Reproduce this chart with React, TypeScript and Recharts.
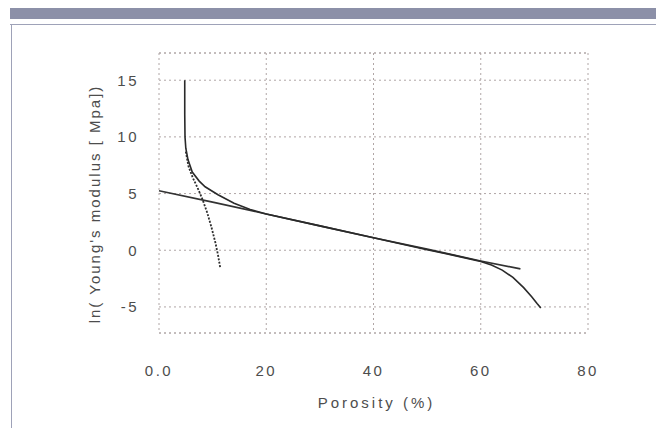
import React from 'react';
import {
  CartesianGrid,
  Label,
  Line,
  LineChart,
  ReferenceLine,
  XAxis,
  YAxis,
} from 'recharts';

// straight fit over the whole porosity range
const linePorosity = [0, 10, 20, 30, 40, 50, 60, 67.4];
const lineLnE = [5.25, 4.25, 3.2, 2.15, 1.1, 0.1, -0.95, -1.65];

// two-sided model: steep near low porosity and near the upper limit
const modelPorosity = [
  4.8, 4.8, 4.85, 5.0, 5.4, 6.2, 7.5, 8.6, 11, 14, 17, 20, 30, 40, 50, 55, 60,
  62, 64, 66, 68, 69.5, 70.5, 71.2,
];
const modelLnE = [
  15, 12, 10, 9, 8.0, 6.9, 6.1, 5.6, 4.9, 4.15, 3.6, 3.2, 2.15, 1.1, 0.05,
  -0.45, -1.0, -1.3, -1.75, -2.4, -3.3, -4.1, -4.7, -5.1,
];

// low porosity branch
const lowPorosity = [5.0, 5.5, 6.3, 7.2, 8.1, 9.0, 9.8, 10.5, 11.0, 11.4];
const lowLnE = [8.7, 7.4, 6.4, 5.5, 4.5, 3.3, 2.0, 0.7, -0.4, -1.5];

const xTicks = [0, 20, 40, 60, 80];
const yTicks = [-5, 0, 5, 10, 15];
const yMin = -7.3;
const yMax = 17.4;

const toPoints = (xs: number[], ys: number[]) =>
  xs.map((x, i) => ({ x, y: ys[i] }));

const lineData = toPoints(linePorosity, lineLnE);
const modelData = toPoints(modelPorosity, modelLnE);
const lowData = toPoints(lowPorosity, lowLnE);

const font = '"Liberation Sans", Arial, sans-serif';
const textColor = '#4d4d4d';
const gridColor = '#b0a6a6';

const App: React.FC = () => {
  return (
    <div
      style={{
        position: 'absolute',
        left: 0,
        top: 0,
        width: 656,
        height: 428,
        background: '#fff',
        fontFamily: font,
      }}
    >
      <div
        style={{
          position: 'absolute',
          left: 10,
          top: 8,
          width: 646,
          height: 11,
          background: '#8c90a8',
        }}
      />
      <div
        style={{
          position: 'absolute',
          left: 10,
          top: 24,
          width: 646,
          height: 1,
          background: '#9ea2b8',
        }}
      />
      <div
        style={{
          position: 'absolute',
          left: 11,
          top: 24,
          width: 1,
          height: 404,
          background: '#9ea2b8',
        }}
      />
      <div style={{ position: 'absolute', left: 0, top: 0 }}>
        <LineChart
          width={656}
          height={428}
          margin={{ top: 53, right: 68, bottom: 55, left: 79 }}
        >
          <CartesianGrid stroke={gridColor} strokeDasharray="2 3" />
          <ReferenceLine
            y={yMax}
            stroke={gridColor}
            strokeDasharray="2 3"
          />
          <ReferenceLine
            y={yMin}
            stroke={gridColor}
            strokeDasharray="2 3"
          />
          <XAxis
            type="number"
            dataKey="x"
            domain={[0, 80]}
            ticks={xTicks}
            axisLine={false}
            tickLine={false}
            tickMargin={26}
            height={40}
            tickFormatter={(v: number) => (v === 0 ? '0.0' : String(v))}
            tick={{
              fill: textColor,
              fontSize: 15,
              fontFamily: font,
              letterSpacing: 2.5,
            }}
          >
            <Label
              content={({ viewBox }: any) => (
                <text
                  x={viewBox.x + viewBox.width / 2 + 3}
                  y={402}
                  textAnchor="middle"
                  dominantBaseline="central"
                  fill={textColor}
                  fontSize={15}
                  fontFamily={font}
                  letterSpacing={3}
                >
                  Porosity (%)
                </text>
              )}
            />
          </XAxis>
          <YAxis
            type="number"
            dataKey="y"
            domain={[yMin, yMax]}
            ticks={yTicks}
            axisLine={false}
            tickLine={false}
            tickMargin={14}
            width={80}
            tick={{
              fill: textColor,
              fontSize: 15,
              fontFamily: font,
              letterSpacing: 2.5,
            }}
          >
            <Label
              content={() => (
                <text
                  x={94}
                  y={204}
                  transform="rotate(-90 94 204)"
                  textAnchor="middle"
                  dominantBaseline="central"
                  fill={textColor}
                  fontSize={15}
                  fontFamily={font}
                  letterSpacing={2}
                >
                  ln( Young's modulus [ Mpa])
                </text>
              )}
            />
          </YAxis>
          <Line
            data={lineData}
            dataKey="y"
            type="linear"
            stroke="#333"
            strokeWidth={1.7}
            dot={false}
            isAnimationActive={false}
          />
          <Line
            data={modelData}
            dataKey="y"
            type="linear"
            stroke="#2a2a2a"
            strokeWidth={1.6}
            dot={false}
            isAnimationActive={false}
          />
          <Line
            data={lowData}
            dataKey="y"
            type="linear"
            stroke="#2e2e2e"
            strokeWidth={1.8}
            strokeDasharray="2 1.5"
            dot={false}
            isAnimationActive={false}
          />
        </LineChart>
      </div>
    </div>
  );
};

export default App;
